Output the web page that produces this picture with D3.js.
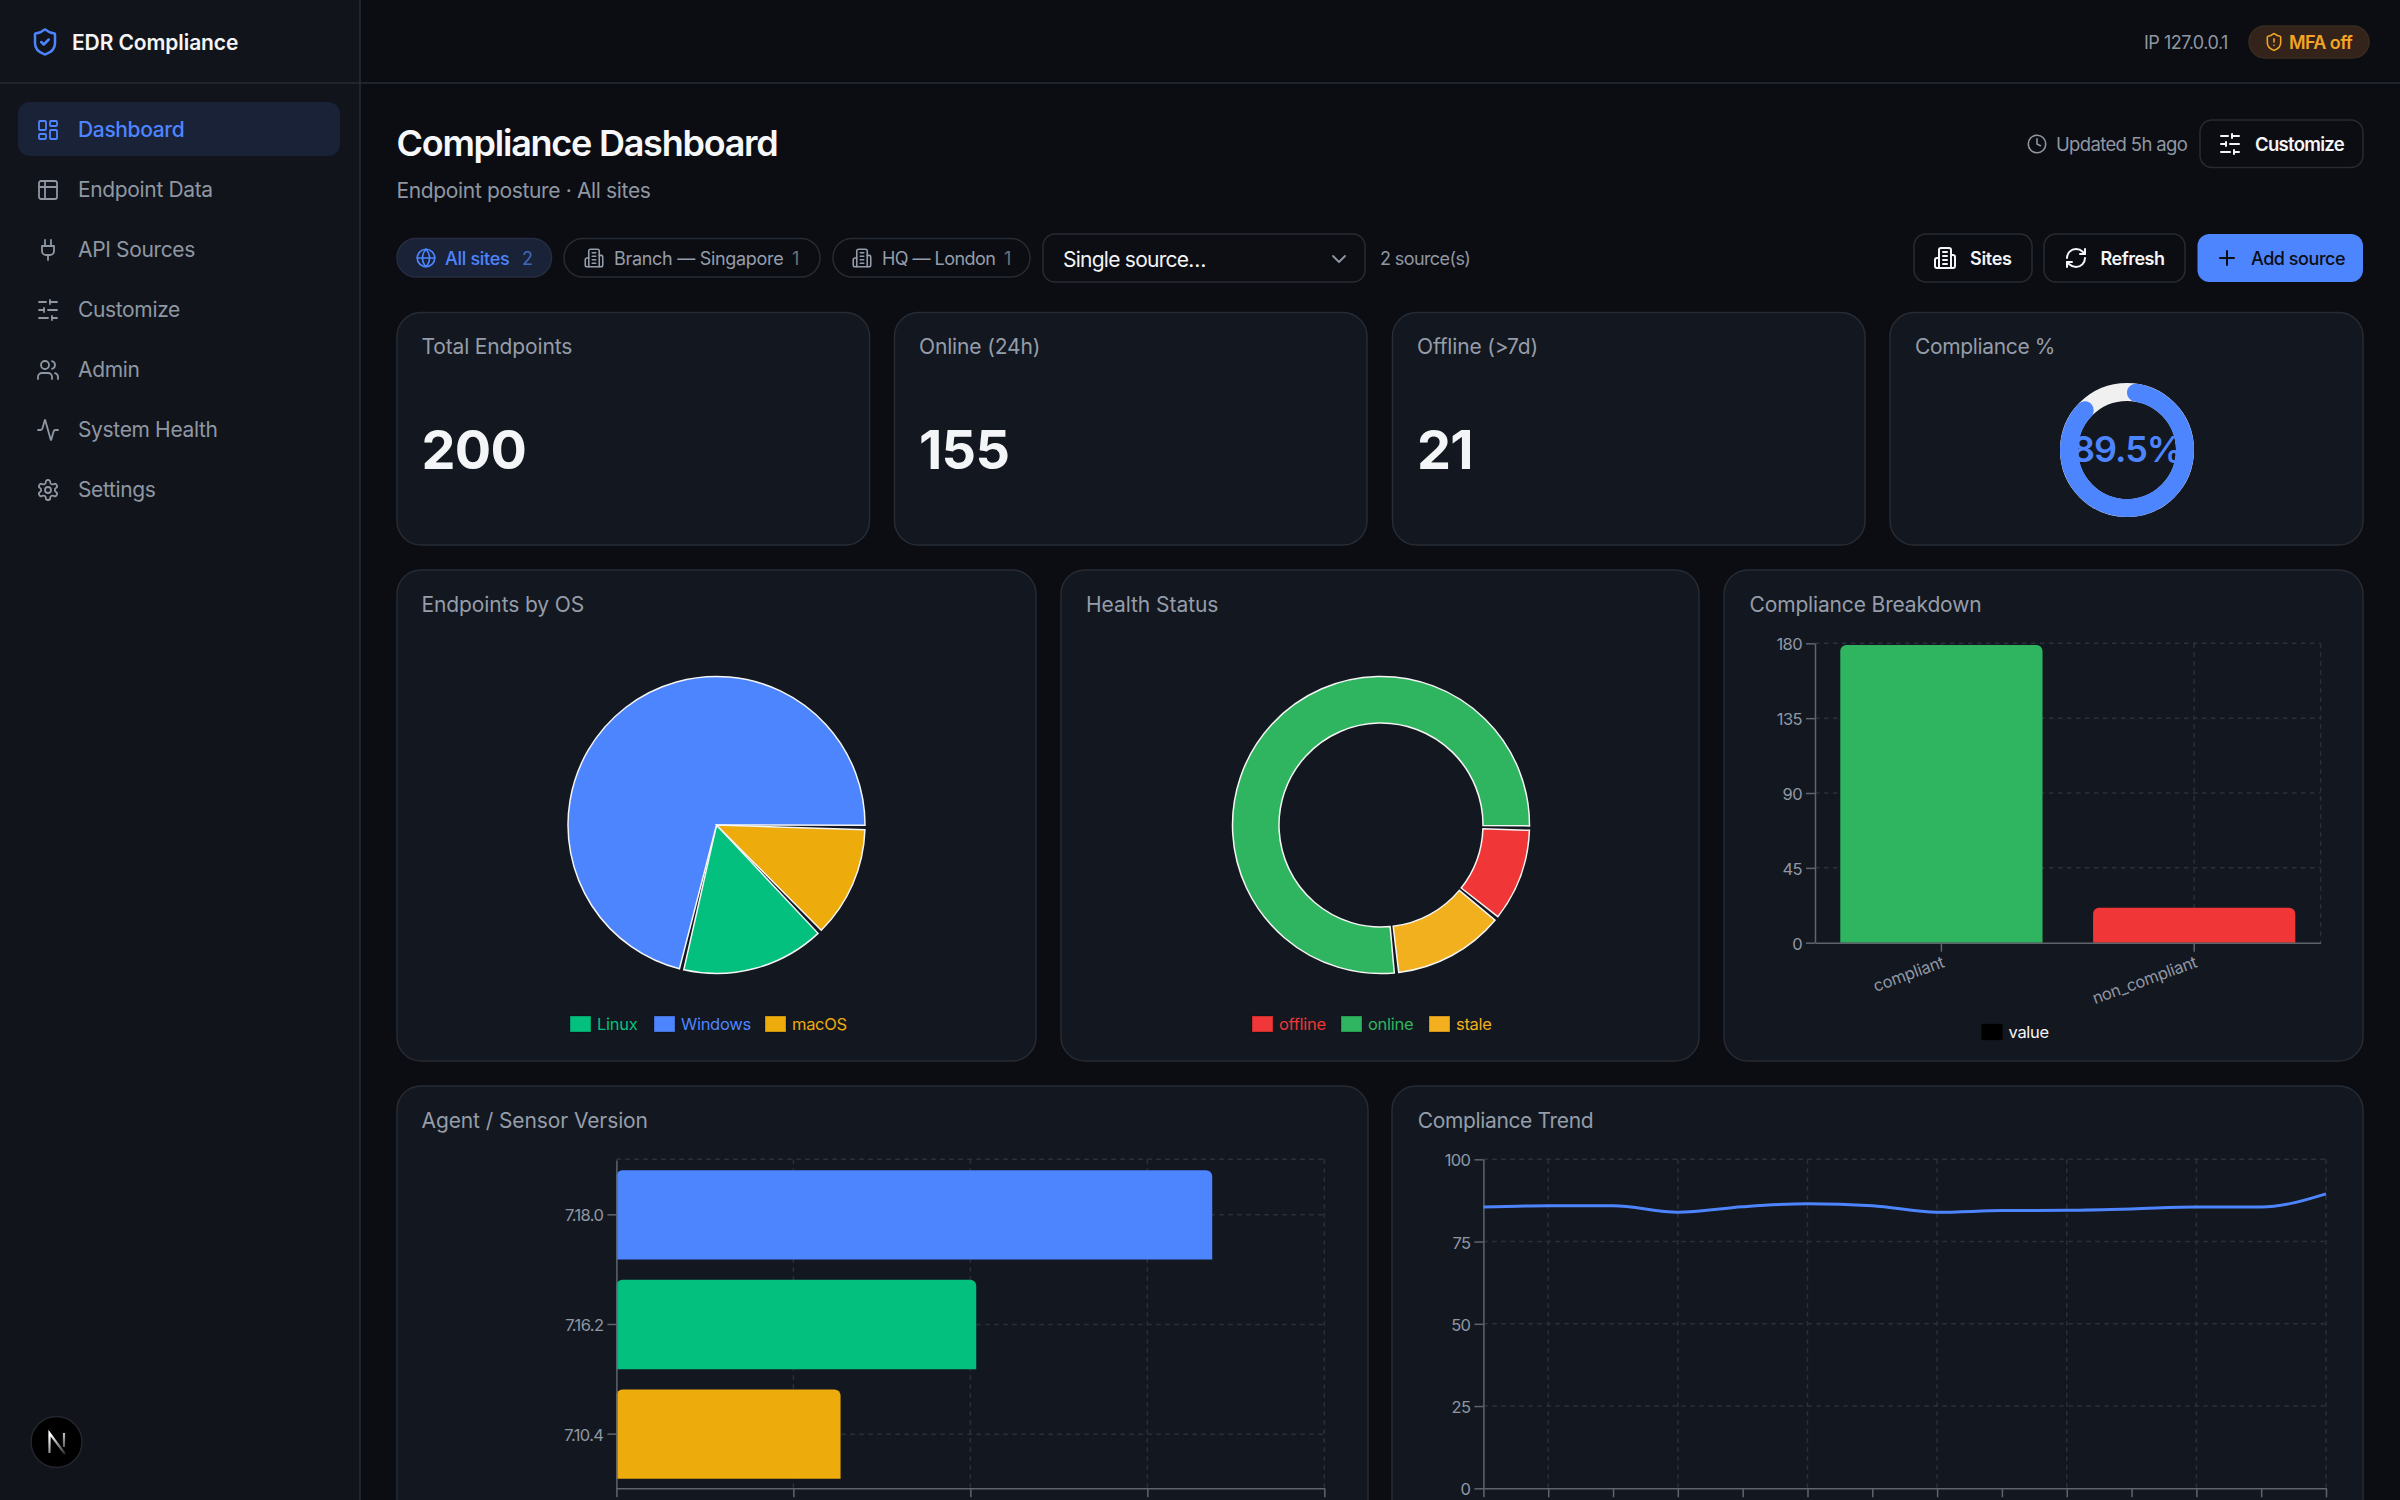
<!DOCTYPE html>
<html>
<head>
<meta charset="utf-8">
<title>EDR Compliance</title>
<script src="https://cdn.jsdelivr.net/npm/d3@7"></script>
<style>
  html, body { margin: 0; padding: 0; background: #0b0d12; overflow: hidden; }
  svg { display: block; font-family: Inter, "Noto Sans", sans-serif; }
  .grid line { stroke: #2b303a; stroke-width: 1.5; stroke-dasharray: 4.5 4.5; }
  .axis path, .axis line { stroke: #5f646d; stroke-width: 1.5; }
  .axis text { fill: #8f97a5; font-size: 16.5px; letter-spacing: -0.6px; font-family: Inter, sans-serif; }
</style>
</head>
<body>
<svg id="page" width="2400" height="1500" viewBox="0 0 2400 1500">
  <defs>
    <linearGradient id="nextFade" gradientUnits="userSpaceOnUse" x1="50" y1="1436" x2="65" y2="1454">
      <stop offset="0" stop-color="#fff"></stop>
      <stop offset="1" stop-color="#fff" stop-opacity="0.15"></stop>
    </linearGradient>
  </defs>
</svg>
<script>
// data
const navItems = ["Dashboard", "Endpoint Data", "API Sources", "Customize", "Admin", "System Health", "Settings"];
const navIcons = ["dashboard", "table", "plug", "sliders", "users", "activity", "settings"];
const kpiLabels = ["Total Endpoints", "Online (24h)", "Offline (>7d)"];
const kpiValues = [200, 155, 21];
const compliancePct = 89.5;

const osNames = ["Linux", "Windows", "macOS"];
const osValues = [32, 143, 25];
const osColors = ["#04c07f", "#4d85ff", "#eeab0c"];

const healthNames = ["offline", "online", "stale"];
const healthValues = [21, 154, 25];
const healthColors = ["#f03636", "#2fb55f", "#f2b01e"];

const breakdownNames = ["compliant", "non_compliant"];
const breakdownValues = [179, 21];
const breakdownColors = ["#2fb55f", "#f03636"];
const breakdownTicks = [0, 45, 90, 135, 180];

const versionNames = ["7.18.0", "7.16.2", "7.10.4"];
const versionValues = [101, 61, 38];
const versionColors = ["#4d85ff", "#04c07f", "#eeab0c"];
const versionTicks = [0, 30, 60, 90, 120];

const trendValues = [85.5, 85.9, 85.9, 83.9, 85.6, 86.5, 85.9, 83.9, 84.4, 84.5, 84.9, 85.5, 85.5, 89.5];
const trendTicks = [0, 25, 50, 75, 100];

const BLUE = "#4d85ff", MUTED = "#959daa", CARD = "#13171f", LINE = "#272b34";

const ICONS = {
  dashboard: ["M4 3h5a1 1 0 0 1 1 1v7a1 1 0 0 1-1 1H4a1 1 0 0 1-1-1V4a1 1 0 0 1 1-1z", "M15 3h5a1 1 0 0 1 1 1v3a1 1 0 0 1-1 1h-5a1 1 0 0 1-1-1V4a1 1 0 0 1 1-1z", "M15 12h5a1 1 0 0 1 1 1v7a1 1 0 0 1-1 1h-5a1 1 0 0 1-1-1v-7a1 1 0 0 1 1-1z", "M4 16h5a1 1 0 0 1 1 1v3a1 1 0 0 1-1 1H4a1 1 0 0 1-1-1v-3a1 1 0 0 1 1-1z"],
  table: ["M9 3H5a2 2 0 0 0-2 2v4m6-6h10a2 2 0 0 1 2 2v4M9 3v18m0 0h10a2 2 0 0 0 2-2V9M9 21H5a2 2 0 0 1-2-2V9m0 0h18"],
  plug: ["M12 22v-5", "M9 8V2", "M15 8V2", "M18 8v5a4 4 0 0 1-4 4h-4a4 4 0 0 1-4-4V8Z"],
  sliders: ["M21 4h-7", "M10 4H3", "M21 12h-9", "M8 12H3", "M21 20h-5", "M12 20H3", "M14 2v4", "M8 10v4", "M16 18v4"],
  users: ["M16 21v-2a4 4 0 0 0-4-4H6a4 4 0 0 0-4 4v2", "M13 7a4 4 0 1 1-8 0 4 4 0 0 1 8 0z", "M22 21v-2a4 4 0 0 0-3-3.87", "M16 3.13a4 4 0 0 1 0 7.75"],
  activity: ["M22 12h-2.48a2 2 0 0 0-1.93 1.46l-2.35 8.36a.25.25 0 0 1-.48 0L9.24 2.18a.25.25 0 0 0-.48 0l-2.35 8.36A2 2 0 0 1 4.49 12H2"],
  settings: ["M12.22 2h-.44a2 2 0 0 0-2 2v.18a2 2 0 0 1-1 1.73l-.43.25a2 2 0 0 1-2 0l-.15-.08a2 2 0 0 0-2.73.73l-.22.38a2 2 0 0 0 .73 2.73l.15.1a2 2 0 0 1 1 1.72v.51a2 2 0 0 1-1 1.74l-.15.09a2 2 0 0 0-.73 2.73l.22.38a2 2 0 0 0 2.73.73l.15-.08a2 2 0 0 1 2 0l.43.25a2 2 0 0 1 1 1.73V20a2 2 0 0 0 2 2h.44a2 2 0 0 0 2-2v-.18a2 2 0 0 1 1-1.73l.43-.25a2 2 0 0 1 2 0l.15.08a2 2 0 0 0 2.73-.73l.22-.39a2 2 0 0 0-.73-2.73l-.15-.08a2 2 0 0 1-1-1.74v-.5a2 2 0 0 1 1-1.74l.15-.09a2 2 0 0 0 .73-2.73l-.22-.38a2 2 0 0 0-2.73-.73l-.15.08a2 2 0 0 1-2 0l-.43-.25a2 2 0 0 1-1-1.73V4a2 2 0 0 0-2-2z", "M15 12a3 3 0 1 1-6 0 3 3 0 0 1 6 0z"],
  shieldCheck: ["M20 13c0 5-3.5 7.5-7.66 8.95a1 1 0 0 1-.67-.01C7.5 20.5 4 18 4 13V6a1 1 0 0 1 1-1c2 0 4.5-1.2 6.24-2.72a1.17 1.17 0 0 1 1.52 0C14.51 3.81 17 5 19 5a1 1 0 0 1 1 1z", "m9 12 2 2 4-4"],
  shieldAlert: ["M20 13c0 5-3.5 7.5-7.66 8.95a1 1 0 0 1-.67-.01C7.5 20.5 4 18 4 13V6a1 1 0 0 1 1-1c2 0 4.5-1.2 6.24-2.72a1.17 1.17 0 0 1 1.52 0C14.51 3.81 17 5 19 5a1 1 0 0 1 1 1z", "M12 8v4", "M12 16h.01"],
  clock: ["M22 12a10 10 0 1 1-20 0 10 10 0 0 1 20 0z", "M12 6v6l4 2"],
  globe: ["M22 12a10 10 0 1 1-20 0 10 10 0 0 1 20 0z", "M12 2a14.5 14.5 0 0 0 0 20 14.5 14.5 0 0 0 0-20", "M2 12h20"],
  building: ["M6 22V4a2 2 0 0 1 2-2h8a2 2 0 0 1 2 2v18Z", "M6 12H4a2 2 0 0 0-2 2v6a2 2 0 0 0 2 2h2", "M18 9h2a2 2 0 0 1 2 2v9a2 2 0 0 1-2 2h-2", "M10 6h4", "M10 10h4", "M10 14h4", "M10 18h4"],
  refresh: ["M3 12a9 9 0 0 1 9-9 9.75 9.75 0 0 1 6.74 2.74L21 8", "M21 3v5h-5", "M21 12a9 9 0 0 1-9 9 9.75 9.75 0 0 1-6.74-2.74L3 16", "M8 16H3v5"],
  plus: ["M5 12h14", "M12 5v14"],
  chevron: ["m6 9 6 6 6-6"]
};

const svg = d3.select("#page");

function box(x, y, w, h, r, fill, stroke) {
  return svg.append("rect").attr("x", x).attr("y", y).attr("width", w).attr("height", h).attr("rx", r)
    .attr("fill", fill).attr("stroke", stroke || "none").attr("stroke-width", stroke ? 1.5 : 0);
}

function label(x, y, str, size, fill, weight, spacing, anchor) {
  return svg.append("text").attr("x", x).attr("y", y).attr("dominant-baseline", "central")
    .attr("font-size", size).attr("fill", fill).attr("font-weight", weight || 400)
    .attr("letter-spacing", spacing || 0).attr("text-anchor", anchor || "start").text(str);
}

function icon(name, cx, cy, size, color, width) {
  const g = svg.append("g").attr("transform", `translate(${cx - size / 2},${cy - size / 2}) scale(${size / 24})`)
    .attr("fill", "none").attr("stroke", color).attr("stroke-width", width || 2)
    .attr("stroke-linecap", "round").attr("stroke-linejoin", "round");
  ICONS[name].forEach((d) => g.append("path").attr("d", d));
}

// page frame
box(0, 0, 360, 1500, 0, "#11141a");
svg.append("line").attr("x1", 360).attr("x2", 360).attr("y1", 0).attr("y2", 1500).attr("stroke", LINE).attr("stroke-width", 1.5);
svg.append("line").attr("x1", 0).attr("x2", 2400).attr("y1", 83).attr("y2", 83).attr("stroke", LINE).attr("stroke-width", 1.5);

icon("shieldCheck", 45, 42, 30, BLUE);
label(72, 42.5, "EDR Compliance", 21, "#f4f5f7", 600, -0.1);

// sidebar
box(18, 102, 322, 54, 12, "#1a2238");
navItems.forEach((name, i) => {
  const y = 130 + i * 60, color = i === 0 ? BLUE : "#8f97a3";
  icon(navIcons[i], 48, y, 24, color, 1.8);
  label(78, y - 0.7, name, 21, color, i === 0 ? 500 : 400, -0.35);
});

// next badge
svg.append("circle").attr("cx", 56.5).attr("cy", 1442).attr("r", 25.5).attr("fill", "#000").attr("stroke", "#23262e").attr("stroke-width", 1.5);
svg.append("path").attr("d", "M49.5 1453V1433L65 1454M64 1433V1447").attr("fill", "none")
  .attr("stroke", "url(#nextFade)").attr("stroke-width", 2.2);

// header
label(2144, 42, "IP 127.0.0.1", 18, "#8f97a3", 400, -0.5);
box(2249, 26, 120, 32, 16, "#33231a", "#3a2c20");
icon("shieldAlert", 2274, 42, 20, "#f5a524", 1.9);
label(2289, 42, "MFA off", 18, "#f5a524", 600, -0.6);

// title row
label(396.5, 143, "Compliance Dashboard", 36, "#f7f8f9", 600, -1.25);
label(396.5, 190, "Endpoint posture · All sites", 21, "#8f97a3", 400, -0.35);
icon("clock", 2037, 144, 21, "#8f97a3", 1.8);
label(2056, 144, "Updated 5h ago", 18.5, "#8f97a3", 400, -0.65);
box(2200, 120, 163, 47.5, 12, "none", LINE);
icon("sliders", 2230, 144, 24, "#f4f5f7");
label(2255, 144, "Customize", 18.5, "#f4f5f7", 600, -0.7);

// filter row
box(397, 238.5, 154.5, 38.5, 19, "#1a2238", "#262d40");
icon("globe", 426, 258, 21, BLUE, 1.9);
label(445, 258, "All sites", 18, BLUE, 500, -0.3);
label(522, 258, "2", 18, "#3f68b8");
box(564, 238.5, 256, 38.5, 19, "none", LINE);
icon("building", 594, 258, 21, MUTED, 1.8);
label(614, 258, "Branch — Singapore", 18, MUTED, 400, -0.3);
label(792, 258, "1", 18, "#6c7380");
box(833, 238.5, 197, 38.5, 19, "none", LINE);
icon("building", 862, 258, 21, MUTED, 1.8);
label(882, 258, "HQ — London", 18, MUTED, 400, -0.55);
label(1004, 258, "1", 18, "#6c7380");

box(1043, 234, 322, 48, 12, "#0c0e13", LINE);
label(1063, 259, "Single source…", 21, "#f4f5f7", 400, -0.75);
icon("chevron", 1339, 259, 24, "#8f97a3", 1.8);
label(1380, 258, "2 source(s)", 18, "#8f97a3", 400, -0.6);

box(1914, 234, 118, 48, 12, "none", LINE);
icon("building", 1945, 258, 24, "#f4f5f7");
label(1970, 258, "Sites", 18, "#f4f5f7", 600, -0.3);
box(2044, 234, 141, 48, 12, "none", LINE);
icon("refresh", 2076, 258, 24, "#f4f5f7");
label(2100.5, 258, "Refresh", 18, "#f4f5f7", 600, -0.5);
box(2197.5, 234, 165.5, 48, 12, BLUE);
icon("plus", 2227, 258, 24, "#0c0e13");
label(2251, 258, "Add source", 18, "#0c0e13", 500, -0.45);

// KPI cards
const kpiX = [397, 894.5, 1392.5];
kpiLabels.forEach((name, i) => {
  box(kpiX[i], 312.5, 472.5, 232.5, 24, CARD, LINE);
  label(kpiX[i] + 24.5, 346, name, 21, MUTED, 400, -0.15);
  label(kpiX[i] + 24.5, 449, kpiValues[i], 54, "#f4f5f7", 700, -0.7);
});

// compliance gauge
box(1890, 312.5, 473, 232.5, 24, CARD, LINE);
label(1915, 346, "Compliance %", 21, MUTED, 400, -0.35);
const gauge = svg.append("g").attr("transform", "translate(2127,450)");
gauge.append("circle").attr("r", 58).attr("fill", "none").attr("stroke", "#f0f0f0").attr("stroke-width", 18);
const gaugeArc = d3.arc().innerRadius(49).outerRadius(67).cornerRadius(9);
gauge.append("path").attr("fill", BLUE)
  .attr("d", gaugeArc({ startAngle: 0, endAngle: 2 * Math.PI * compliancePct / 100 }));
label(2127, 449, compliancePct + "%", 36, BLUE, 600, -1, "middle");

// pie cards
function drawPie(cx, cy, inner, names, values, colors, startDeg, dir) {
  const rad = startDeg * Math.PI / 180, gap = 0.03;
  const pie = d3.pie().sort(null).startAngle(rad).endAngle(rad + dir * 2 * Math.PI);
  const arc = d3.arc().innerRadius(inner).outerRadius(148.5).padAngle(0);
  const g = svg.append("g").attr("transform", `translate(${cx},${cy})`);
  g.selectAll("path").data(pie(values)).join("path")
    .attr("d", (d) => {
      const lo = Math.min(d.startAngle, d.endAngle), hi = Math.max(d.startAngle, d.endAngle);
      return arc({ startAngle: lo + gap / 2, endAngle: hi - gap / 2 });
    })
    .attr("fill", (d, i) => colors[i]).attr("stroke", "#f5f5f5").attr("stroke-width", 1.5);
}

function legend(y, xs, names, colors, textColors) {
  names.forEach((name, i) => {
    svg.append("rect").attr("x", xs[i]).attr("y", y - 8).attr("width", 21).attr("height", 16)
      .attr("fill", colors[i]).attr("stroke", "#000").attr("stroke-opacity", 0.3).attr("stroke-width", 1);
    label(xs[i] + 27, y, name, 16.5, textColors ? textColors[i] : colors[i], 400, -0.3);
  });
}

box(397, 570, 639, 491, 24, CARD, LINE);
label(421.5, 604, "Endpoints by OS", 21, MUTED, 400, -0.1);
drawPie(716.5, 825, 0, osNames, osValues, osColors, 136, 1);
legend(1024, [570, 654, 765], osNames, osColors);

box(1061, 570, 638, 491, 24, CARD, LINE);
label(1086, 604, "Health Status", 21, MUTED, 400, -0.05);
drawPie(1381, 825, 102, healthNames, healthValues, healthColors, 129, -1);
legend(1024, [1252, 1341, 1429], healthNames, healthColors);

// rounded on the top edge only, like the chart's bars
function topBar(x, y, w, h, r) {
  const p = d3.path();
  p.moveTo(x, y + h);
  p.lineTo(x, y + r);
  p.arcTo(x, y, x + r, y, r);
  p.lineTo(x + w - r, y);
  p.arcTo(x + w, y, x + w, y + r, r);
  p.lineTo(x + w, y + h);
  p.closePath();
  return p.toString();
}

function grid(xLines, yLines, x0, x1, y0, y1) {
  const g = svg.append("g").attr("class", "grid");
  xLines.forEach((x) => g.append("line").attr("x1", x).attr("x2", x).attr("y1", y0).attr("y2", y1));
  yLines.forEach((y) => g.append("line").attr("x1", x0).attr("x2", x1).attr("y1", y).attr("y2", y));
}

// compliance breakdown
box(1724, 570, 639, 491, 24, CARD, LINE);
label(1749.5, 604, "Compliance Breakdown", 21, MUTED, 400, -0.15);
const bx = d3.scaleBand().domain(breakdownNames).range([1815, 2320.6]).paddingInner(0.2).paddingOuter(0.1);
const by = d3.scaleLinear().domain([0, 180]).range([942.7, 643.3]);
const bxCenter = (n) => bx(n) + bx.bandwidth() / 2;
grid(breakdownNames.map(bxCenter).concat(2320.6), breakdownTicks.slice(1).map(by), 1815, 2320.6, 643.3, 942.7);
svg.selectAll(".breakdown").data(breakdownValues).join("path").attr("class", "breakdown")
  .attr("d", (d, i) => topBar(bx(breakdownNames[i]), by(d), bx.bandwidth(), by(0) - by(d), 6))
  .attr("fill", (d, i) => breakdownColors[i]);
svg.append("g").attr("class", "axis").attr("transform", "translate(1815,0)")
  .call(d3.axisLeft(by).tickValues(breakdownTicks).tickSize(9).tickPadding(4).tickSizeOuter(0))
  .selectAll("text").attr("dy", "0.4em");
svg.append("g").attr("class", "axis").attr("transform", "translate(0,942.7)")
  .call(d3.axisBottom(bx).tickSize(9).tickSizeOuter(0))
  .selectAll("text").attr("x", 0).attr("y", 0).attr("dy", 0).style("letter-spacing", "-0.25px")
  .attr("text-anchor", "end").attr("transform", "translate(4,24) rotate(-20)");
legend(1032, [1981.5], ["value"], ["#000"], ["#f4f5f7"]);

// agent versions
box(397, 1086, 971, 500, 24, CARD, LINE);
label(421.5, 1120, "Agent / Sensor Version", 21, MUTED, 400, -0.1);
const vx = d3.scaleLinear().domain([0, 120]).range([616.4, 1324.3]);
const vy = d3.scaleBand().domain(versionNames).range([1160, 1489]).paddingInner(0.185).paddingOuter(0.0925);
grid(versionTicks.slice(1).map(vx), versionNames.map((n) => vy(n) + vy.bandwidth() / 2).concat(1159.3), 616.4, 1324.3, 1159.3, 1488.3);
svg.selectAll(".version").data(versionValues).join("path").attr("class", "version")
  .attr("d", (d, i) => topBar(vx(0), vy(versionNames[i]), vx(d) - vx(0), vy.bandwidth(), 6))
  .attr("fill", (d, i) => versionColors[i]);
svg.append("g").attr("class", "axis").attr("transform", "translate(616.4,0)")
  .call(d3.axisLeft(vy).tickSize(9).tickPadding(4).tickSizeOuter(0))
  .selectAll("text").attr("dy", "0.4em");
svg.append("g").attr("class", "axis").attr("transform", "translate(0,1488.3)")
  .call(d3.axisBottom(vx).tickValues(versionTicks).tickSize(9).tickSizeOuter(0).tickFormat(""));

// compliance trend
box(1392, 1086, 971, 500, 24, CARD, LINE);
label(1417.7, 1120, "Compliance Trend", 21, MUTED, 400, -0.35);
const tx = d3.scaleLinear().domain([0, trendValues.length - 1]).range([1483.4, 2326]);
const ty = d3.scaleLinear().domain([0, 100]).range([1488.3, 1159.3]);
const tIdx = d3.range(trendValues.length);
grid(tIdx.filter((i) => i % 2 === 1).map(tx), trendTicks.slice(1).map(ty), 1483.4, 2326, 1159.3, 1488.3);
svg.append("g").attr("class", "axis").attr("transform", "translate(1483.4,0)")
  .call(d3.axisLeft(ty).tickValues(trendTicks).tickSize(9).tickPadding(4).tickSizeOuter(0))
  .selectAll("text").attr("dy", "0.4em");
svg.append("g").attr("class", "axis").attr("transform", "translate(0,1488.3)")
  .call(d3.axisBottom(tx).tickValues(tIdx).tickSize(9).tickSizeOuter(0).tickFormat(""));
const trendLine = d3.line().x((d, i) => tx(i)).y((d) => ty(d)).curve(d3.curveMonotoneX);
svg.append("path").datum(trendValues).attr("d", trendLine).attr("fill", "none").attr("stroke", BLUE).attr("stroke-width", 3);
</script>
</body>
</html>
